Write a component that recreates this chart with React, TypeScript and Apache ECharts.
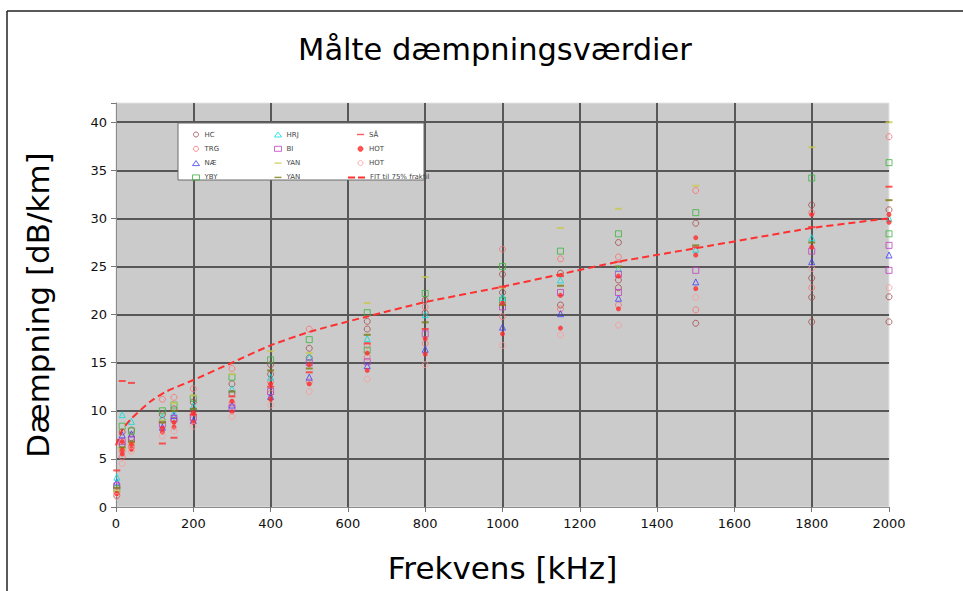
import React, { useEffect, useRef } from 'react';
import * as echarts from 'echarts';

// Frequencies (kHz) at which measurements were taken
const freqs = [2, 16, 40, 120, 150, 200, 300, 400, 500, 650, 800, 1000, 1150, 1300, 1500, 1800, 2000];

// Attenuation values (dB/km) per series, aligned with freqs, plus extra readings
const hcValues = [1.2, 6.5, 7.2, 9.6, 10.2, 10.9, 12.8, 14.8, 16.5, 19.3, 21.5, 24.2, 24.3, 27.5, 29.5, 31.4, 30.9];
const hcExtra = [[16, 7.8], [40, 8.0], [120, 9.0], [150, 9.0], [200, 10.0], [300, 11.8], [400, 13.8], [500, 15.5], [650, 18.5], [800, 20.2], [1000, 22.3], [1150, 21.0], [1300, 22.8], [1300, 23.6], [1500, 19.1], [1800, 23.8], [1800, 21.8], [1800, 19.25], [2000, 21.85], [2000, 19.25]];
const trgValues = [1.5, 5.2, 6.2, 11.2, 11.4, 12.3, 14.4, 13.0, 18.5, 16.8, 20.8, 26.8, 25.8, 26.0, 32.9, 30.6, 38.5];
const trgExtra = [[16, 5.8], [40, 6.4], [200, 9.2], [300, 10.8], [400, 11.8], [500, 13.0], [650, 15.6], [800, 17.0], [1000, 19.8], [1150, 20.6], [1300, 21.0], [1500, 20.5], [1800, 22.8]];
const naeValues = [2.6, 7.5, 7.6, 8.3, 9.5, 9.0, 10.6, 11.5, 13.5, 14.7, 16.4, 18.7, 20.1, 21.7, 23.4, 25.5, 26.2];
const ybyValues = [1.9, 8.4, 7.9, 10.0, 10.6, 11.3, 13.5, 15.3, 17.4, 20.2, 22.2, 25.0, 26.6, 28.4, 30.6, 34.2, 35.8];
const ybyExtra = [[650, 16.3], [1000, 21.5], [2000, 28.4]];
const hrjValues = [3.1, 9.6, 8.9, 9.3, 9.8, 10.5, 12.3, 13.5, 15.6, 17.5, 20.0, 21.8, 23.6, 24.8, 26.8, 28.0, 30.0];
const biValues = [2.2, 6.8, 7.0, 8.6, 9.2, 9.3, 10.3, 12.0, 15.0, 15.1, 18.0, 20.8, 22.3, 24.2, 24.6, 26.6, 27.2];
const biExtra = [[1300, 22.3], [2000, 24.6]];
const yan1Values = [1.7, 6.0, 6.6, 9.0, 10.8, 11.6, 13.8, 16.2, 16.0, 21.2, 23.9, 22.8, 29.0, 31.0, 33.4, 37.4, 40.0];
const yan2Values = [2.0, 6.2, 6.8, 8.8, 10.0, 10.2, 12.0, 14.2, 14.4, 17.9, 19.2, 21.0, 23.0, 25.0, 27.2, 27.5, 31.9];
const saValues = [3.8, 13.1, 12.9, 6.6, 7.2, 9.6, 11.5, 12.5, 14.0, 17.0, 18.5, 22.9, 24.0, 25.5, 27.0, 29.1, 33.3];
const hot1Values = [1.4, 5.5, 6.0, 7.8, 8.3, 8.8, 9.9, 11.2, 12.8, 14.2, 15.9, 18.0, 18.6, 20.6, 22.7, 30.4, 29.6];
const hot1Extra = [[16, 6.8], [16, 5.9], [40, 6.5], [120, 8.2], [150, 8.8], [200, 9.8], [300, 11.0], [400, 12.8], [500, 14.8], [650, 16.0], [800, 17.5], [1000, 21.2], [1150, 22.0], [1300, 24.0], [1500, 26.2], [1500, 28.0], [1800, 27.0], [2000, 30.4]];
const hot2Values = [1.1, 4.5, 5.8, 7.4, 7.9, 8.4, 9.4, 10.6, 12.0, 13.3, 14.8, 16.8, 17.9, 18.9, 21.8, 24.8, 22.8];

// Fit curve (75% fractile)
const fitFreqs = [0, 16, 40, 90, 130, 200, 300, 400, 500, 650, 800, 1000, 1150, 1300, 1500, 1800, 2000];
const fitValues = [6.4, 8.0, 9.2, 11.0, 12.0, 13.2, 15.0, 16.8, 18.2, 19.8, 21.3, 22.9, 24.2, 25.5, 26.9, 29.0, 30.0];

const FONT = 'DejaVu Sans';
const DASH = 'path://M0,0H10V2H0Z';
const FIT_ICON = 'path://M0,0H7V2H0Z M10,0H17V2H10Z';
const CLEAR = 'rgba(0,0,0,0)';
const GRIDC = '#575757';

function pts(values: number[], extra: number[][] = []) {
  return freqs.map((f, i) => [f, values[i]]).concat(extra);
}

function hollow(name: string, data: number[][], symbol: string, color: string, size = 6) {
  return {
    type: 'scatter',
    name,
    data,
    symbol,
    symbolSize: size,
    itemStyle: { color: CLEAR, borderColor: color, borderWidth: 1 },
    silent: true,
    z: 3,
  };
}

function filled(name: string, data: number[][], symbol: string, color: string, size = 5) {
  return {
    type: 'scatter',
    name,
    data,
    symbol,
    symbolSize: size,
    itemStyle: { color, borderColor: color, borderWidth: 0 },
    silent: true,
    z: 3,
  };
}

function dash(name: string, data: number[][], color: string) {
  return {
    type: 'scatter',
    name,
    data,
    symbol: DASH,
    symbolSize: [7, 2],
    itemStyle: { color },
    silent: true,
    z: 3,
  };
}

export default function App() {
  const ref = useRef<HTMLDivElement>(null);
  useEffect(() => {
    document.body.style.margin = '0';
    const chart = echarts.init(ref.current!, null, { renderer: 'svg' });
    const ySplit = [CLEAR, GRIDC, GRIDC, GRIDC, GRIDC, GRIDC, GRIDC, GRIDC, GRIDC, CLEAR];
    const xSplit = [CLEAR, GRIDC, GRIDC, GRIDC, GRIDC, GRIDC, GRIDC, GRIDC, GRIDC, GRIDC, CLEAR];
    const pitch = 14.3;
    const legendCommon = {
      orient: 'vertical',
      top: 125.5,
      itemWidth: 7,
      itemHeight: 5,
      itemGap: pitch - 8,
      textStyle: { fontSize: 7, lineHeight: 8, color: '#444', fontFamily: FONT },
      itemStyle: { borderWidth: 1 },
      lineStyle: { width: 2 },
      selectedMode: false,
      z: 6,
    };
    const option = {
      animation: false,
      backgroundColor: '#fff',
      title: {
        text: 'Målte dæmpningsværdier',
        left: 490,
        textAlign: 'center',
        top: 29,
        textStyle: { fontSize: 30.5, fontWeight: 'normal', color: '#000', fontFamily: FONT },
      },
      grid: {
        left: 116,
        right: 74,
        top: 103,
        bottom: 84,
        show: true,
        backgroundColor: '#cbcbcb',
        borderColor: '#e4e4e4',
        borderWidth: 1,
        outerBoundsMode: 'none',
      },
      xAxis: {
        type: 'value',
        min: 0,
        max: 2000,
        interval: 200,
        name: 'Frekvens [kHz]',
        nameLocation: 'middle',
        nameGap: 45,
        nameTextStyle: { fontSize: 31, color: '#000', fontFamily: FONT },
        axisLine: { show: true, lineStyle: { color: '#8a8a8a', width: 1 } },
        axisTick: { show: true, length: 5, lineStyle: { color: '#777' } },
        axisLabel: { margin: 10, fontSize: 13, color: '#111', fontFamily: FONT, formatter: (v: number) => String(v) },
        splitLine: { show: true, lineStyle: { color: xSplit, width: 2 } },
      },
      yAxis: {
        type: 'value',
        min: 0,
        max: 42,
        interval: 5,
        name: 'Dæmpning [dB/km]',
        nameLocation: 'middle',
        nameGap: 63,
        nameTextStyle: { fontSize: 31, color: '#000', fontFamily: FONT },
        axisLine: { show: true, lineStyle: { color: '#8a8a8a', width: 1 } },
        axisTick: { show: true, length: 5, lineStyle: { color: '#777' } },
        axisLabel: {
          margin: 9,
          fontSize: 13,
          color: '#111',
          fontFamily: FONT,
          formatter: (v: number) => (v % 5 === 0 ? String(v) : ''),
        },
        splitLine: { show: true, lineStyle: { color: ySplit, width: 2 } },
      },
      legend: [
        { ...legendCommon, left: 187, data: ['HC', 'TRG', 'NÆ', 'YBY'] },
        { ...legendCommon, left: 269, data: ['HRJ', 'BI', 'YAN', 'YAN '] },
        { ...legendCommon, left: 352, data: ['SÅ', 'HOT', 'HOT '] },
        {
          ...legendCommon,
          left: 343,
          top: 125.5 + 3 * pitch,
          itemWidth: 17,
          itemHeight: 2,
          data: [{ name: 'FIT til 75% fraktil', icon: FIT_ICON }],
        },
      ],
      graphic: [
        {
          type: 'rect',
          z: 5,
          shape: { x: 178, y: 123, width: 246, height: 57 },
          style: { fill: '#fff', stroke: '#6a6a6a', lineWidth: 1 },
        },
        {
          type: 'line',
          z: 5,
          shape: { x1: 7, y1: 11, x2: 963, y2: 11 },
          style: { stroke: '#222', lineWidth: 1.5 },
        },
        {
          type: 'line',
          z: 5,
          shape: { x1: 7, y1: 11, x2: 7, y2: 591 },
          style: { stroke: '#222', lineWidth: 1.5 },
        },
      ],
      series: [
        hollow('HC', pts(hcValues, hcExtra), 'circle', '#a84848'),
        hollow('TRG', pts(trgValues, trgExtra), 'circle', '#ff6e6e'),
        hollow('NÆ', pts(naeValues), 'triangle', '#3c3cff'),
        hollow('YBY', pts(ybyValues, ybyExtra), 'rect', '#3cb43c'),
        hollow('HRJ', pts(hrjValues), 'triangle', '#00e0e0'),
        hollow('BI', pts(biValues, biExtra), 'rect', '#c040c0'),
        dash('YAN', pts(yan1Values), '#c8c850'),
        dash('YAN ', pts(yan2Values), '#7a7a10'),
        dash('SÅ', pts(saValues), '#ff3030'),
        filled('HOT', pts(hot1Values, hot1Extra), 'circle', '#ff2a2a'),
        hollow('HOT ', pts(hot2Values), 'circle', '#ff9a9a'),
        {
          type: 'line',
          name: 'FIT til 75% fraktil',
          data: fitFreqs.map((f, i) => [f, fitValues[i]]),
          symbol: 'none',
          showSymbol: false,
          smooth: 0.2,
          lineStyle: { color: '#ff3030', width: 2, type: [7, 4] },
          itemStyle: { color: '#ff3030' },
          silent: true,
          z: 4,
        },
      ],
    };
    chart.setOption(option as any);
    return () => chart.dispose();
  }, []);
  return <div ref={ref} style={{ width: 963, height: 591 }} />;
}
